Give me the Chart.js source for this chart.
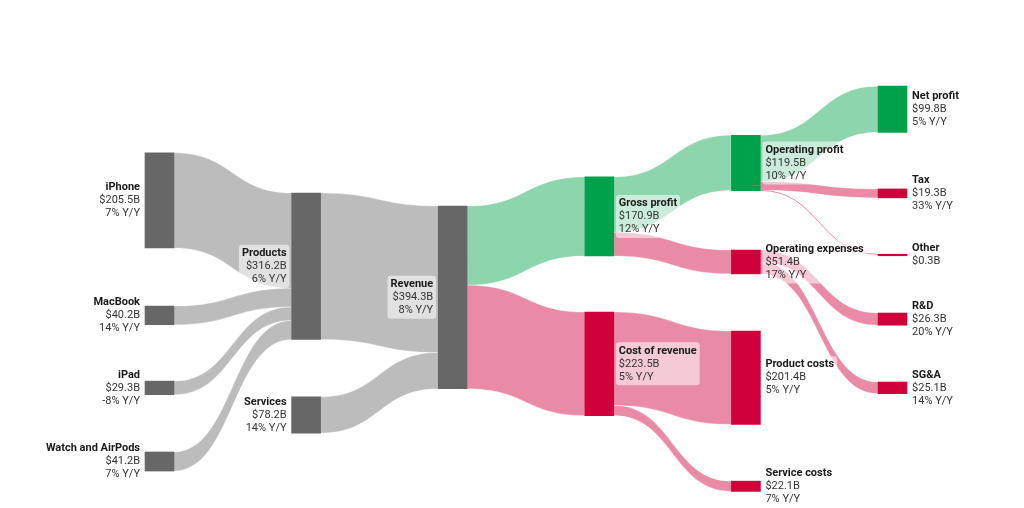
<!DOCTYPE html>
<html>
<head>
<meta charset="utf-8">
<script src="https://cdn.jsdelivr.net/npm/chart.js@4/dist/chart.umd.min.js"></script>
<style>
  html, body { margin: 0; padding: 0; background: #fff; }
  #wrap { width: 1024px; height: 508px; }
</style>
</head>
<body>
<div id="wrap"><canvas id="sankey"></canvas></div>
<script>
// nodes, $B and growth
var nodeNames = ["iPhone", "MacBook", "iPad", "Watch and AirPods", "Products", "Services", "Revenue",
  "Gross profit", "Cost of revenue", "Operating profit", "Operating expenses", "Product costs",
  "Service costs", "Net profit", "Tax", "Other", "R&D", "SG&A"];
var nodeValues = [205.5, 40.2, 29.3, 41.2, 316.2, 78.2, 394.3, 170.9, 223.5, 119.5, 51.4, 201.4,
  22.1, 99.8, 19.3, 0.3, 26.3, 25.1];
var nodeGrowth = ["7%", "14%", "-8%", "7%", "6%", "14%", "8%", "12%", "5%", "10%", "17%", "5%",
  "7%", "5%", "33%", null, "20%", "14%"];

// flows between nodes (index into nodeNames)
var linkSource = [0, 1, 2, 3, 4, 5, 6, 6, 7, 7, 8, 8, 9, 9, 9, 10, 10];
var linkTarget = [4, 4, 4, 4, 6, 6, 7, 8, 9, 10, 11, 12, 13, 14, 15, 16, 17];
var linkValues = [205.5, 40.2, 29.3, 41.2, 316.2, 78.2, 170.9, 223.5, 119.5, 51.4, 201.4, 22.1,
  99.8, 19.3, 0.3, 26.3, 25.1];

// layout: column of each node and its top, measured in $B from the top of the chart
var nodeColumn = [0, 0, 0, 0, 1, 1, 2, 3, 3, 4, 4, 4, 4, 5, 5, 5, 5, 5];
var nodeTop = [330, 661, 823, 976, 417, 857, 445, 382, 674, 292, 540, 715, 1039, 186, 408, 549, 676, 825];
var nodeKind = ["g", "g", "g", "g", "g", "g", "g", "p", "l", "p", "l", "l", "l", "p", "l", "l", "l", "l"];

var nodeColors = { g: "#676767", p: "#00a14b", l: "#d0003a" };
var linkColors = { g: "#bcbcbc", p: "#8dd6ad", l: "#e98aa7" };
var NODE_W = 0.198;
var FONT = "11px Roboto, 'Noto Sans', sans-serif";

var sankeyPlugin = {
  id: "sankeyFlows",
  beforeDatasetsDraw: function (chart) {
    var ctx = chart.ctx, xs = chart.scales.x, ys = chart.scales.y;
    var outOff = nodeValues.map(function () { return 0; });
    var inOff = nodeValues.map(function () { return 0; });
    ctx.save();
    for (var i = 0; i < linkValues.length; i++) {
      var s = linkSource[i], t = linkTarget[i], v = linkValues[i];
      var x0 = xs.getPixelForValue(nodeColumn[s] + NODE_W);
      var x1 = xs.getPixelForValue(nodeColumn[t]);
      var a0 = ys.getPixelForValue(nodeTop[s] + outOff[s]);
      var b0 = ys.getPixelForValue(nodeTop[s] + outOff[s] + v);
      var a1 = ys.getPixelForValue(nodeTop[t] + inOff[t]);
      var b1 = ys.getPixelForValue(nodeTop[t] + inOff[t] + v);
      outOff[s] += v;
      inOff[t] += v;
      var xm = (x0 + x1) / 2;
      var col = linkColors[nodeKind[t]];
      if (b0 - a0 < 1) {
        ctx.beginPath();
        ctx.moveTo(x0, (a0 + b0) / 2);
        ctx.bezierCurveTo(xm, (a0 + b0) / 2, xm, (a1 + b1) / 2, x1, (a1 + b1) / 2);
        ctx.strokeStyle = col;
        ctx.lineWidth = 1;
        ctx.stroke();
        continue;
      }
      ctx.beginPath();
      ctx.moveTo(x0, a0);
      ctx.bezierCurveTo(xm, a0, xm, a1, x1, a1);
      ctx.lineTo(x1, b1);
      ctx.bezierCurveTo(xm, b1, xm, b0, x0, b0);
      ctx.closePath();
      ctx.fillStyle = col;
      ctx.fill();
      ctx.strokeStyle = "rgba(255,255,255,0.5)";
      ctx.lineWidth = 0.6;
      ctx.stroke();
    }
    ctx.restore();
  },
  afterDatasetsDraw: function (chart) {
    var ctx = chart.ctx, xs = chart.scales.x, ys = chart.scales.y;
    var lh = 13;
    ctx.save();
    ctx.textBaseline = "middle";
    for (var i = 0; i < nodeNames.length; i++) {
      var lines = [nodeNames[i], "$" + nodeValues[i].toFixed(1) + "B"];
      if (nodeGrowth[i]) lines.push(nodeGrowth[i] + " Y/Y");
      var cy = (ys.getPixelForValue(nodeTop[i]) + ys.getPixelForValue(nodeTop[i] + nodeValues[i])) / 2;
      var left = nodeColumn[i] < 3;
      var tx = left ? xs.getPixelForValue(nodeColumn[i]) - 5 : xs.getPixelForValue(nodeColumn[i] + NODE_W) + 5;
      var w = 0;
      for (var k = 0; k < lines.length; k++) {
        ctx.font = (k === 0 ? "bold " : "") + FONT;
        w = Math.max(w, ctx.measureText(lines[k]).width);
      }
      var top = cy - lines.length * lh / 2;
      ctx.fillStyle = "rgba(255,255,255,0.55)";
      ctx.beginPath();
      ctx.roundRect(left ? tx - w - 3 : tx - 3, top - 2, w + 6, lines.length * lh + 4, 3);
      ctx.fill();
      ctx.textAlign = left ? "right" : "left";
      for (var k = 0; k < lines.length; k++) {
        ctx.font = (k === 0 ? "bold " : "") + FONT;
        ctx.fillStyle = k === 0 ? "#1a1a1a" : "#333333";
        ctx.fillText(lines[k], tx, top + lh * (k + 0.5));
      }
    }
    ctx.restore();
  }
};

new Chart("sankey", {
  type: "bar",
  data: {
    datasets: [{
      data: nodeValues.map(function (v, i) {
        return { x: nodeColumn[i] + NODE_W / 2, y: [nodeTop[i], nodeTop[i] + v] };
      }),
      backgroundColor: nodeKind.map(function (k) { return nodeColors[k]; }),
      barThickness: 29,
      minBarLength: 1.5,
      borderWidth: 0
    }]
  },
  options: {
    responsive: true,
    maintainAspectRatio: false,
    animation: false,
    layout: { padding: 0 },
    scales: {
      x: { type: "linear", min: -0.989, max: 5.996, offset: false, display: false },
      y: { type: "linear", min: 0, max: 1097, reverse: true, display: false }
    },
    plugins: {
      legend: { display: false },
      tooltip: { enabled: false }
    }
  },
  plugins: [sankeyPlugin]
});
</script>
</body>
</html>
